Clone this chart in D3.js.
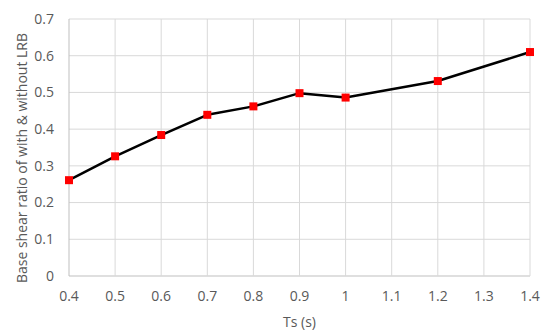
<!DOCTYPE html>
<html><head><meta charset="utf-8">
<script src="https://cdn.jsdelivr.net/npm/d3@7"></script>
<style>body{margin:0;background:#fff}</style>
</head><body><svg id="c" width="550" height="334"></svg>
<script>
const tsValues = [0.4, 0.5, 0.6, 0.7, 0.8, 0.9, 1.0, 1.2, 1.4];
const ratioValues = [0.261, 0.326, 0.384, 0.439, 0.462, 0.498, 0.486, 0.531, 0.610];
const xTicks = [0.4,0.5,0.6,0.7,0.8,0.9,1.0,1.1,1.2,1.3,1.4];
const yTicks = [0,0.1,0.2,0.3,0.4,0.5,0.6,0.7];
const xTitle = "Ts (s)";
const yTitle = "Base shear ratio of with & without LRB";

const svg = d3.select("#c");
const m = {l:69, r:530, t:19, b:276};
const x = d3.scaleLinear().domain([0.4,1.4]).range([m.l,m.r]);
const y = d3.scaleLinear().domain([0,0.7]).range([m.b,m.t]);
const font = "'Open Sans', sans-serif";
const tc = "#595959";

svg.append("g").selectAll("line").data(yTicks).join("line")
  .attr("x1",m.l).attr("x2",m.r).attr("y1",d=>y(d)).attr("y2",d=>y(d))
  .attr("stroke",d=>d===0?"#bfbfbf":"#d9d9d9").attr("stroke-width",1);
svg.append("g").selectAll("line").data(xTicks).join("line")
  .attr("y1",m.t).attr("y2",m.b).attr("x1",d=>x(d)).attr("x2",d=>x(d))
  .attr("stroke",(d,i)=>i===0?"#bfbfbf":"#d9d9d9").attr("stroke-width",1);

svg.append("g").selectAll("text").data(yTicks).join("text")
  .attr("x",54).attr("y",d=>y(d)).attr("dy","0.35em").attr("text-anchor","end")
  .attr("font-family",font).attr("font-size",14).attr("fill",tc)
  .text(d=>d3.format("")(+d.toFixed(1)));
svg.append("g").selectAll("text").data(xTicks).join("text")
  .attr("x",d=>x(d)).attr("y",296).attr("dy","0.35em").attr("text-anchor","middle")
  .attr("font-family",font).attr("font-size",14).attr("fill",tc)
  .text(d=>d3.format("")(+d.toFixed(1)));

svg.append("text").attr("x",(m.l+m.r)/2).attr("y",322).attr("dy","0.35em").attr("text-anchor","middle")
  .attr("font-family",font).attr("font-size",14).attr("fill",tc).text(xTitle);
svg.append("text").attr("transform",`translate(22,158) rotate(-90)`).attr("dy","0.35em")
  .attr("text-anchor","middle").attr("font-family",font).attr("font-size",14).attr("fill",tc).text(yTitle);

const data = tsValues.map((t,i)=>({t, v:ratioValues[i]}));
svg.append("path").datum(data).attr("fill","none").attr("stroke","#000").attr("stroke-width",2.5)
  .attr("stroke-linejoin","round").attr("d",d3.line().x(d=>x(d.t)).y(d=>y(d.v)));
svg.append("g").selectAll("rect").data(data).join("rect")
  .attr("x",d=>x(d.t)-4).attr("y",d=>y(d.v)-4).attr("width",8).attr("height",8).attr("fill","#ff0000");
</script></body></html>
